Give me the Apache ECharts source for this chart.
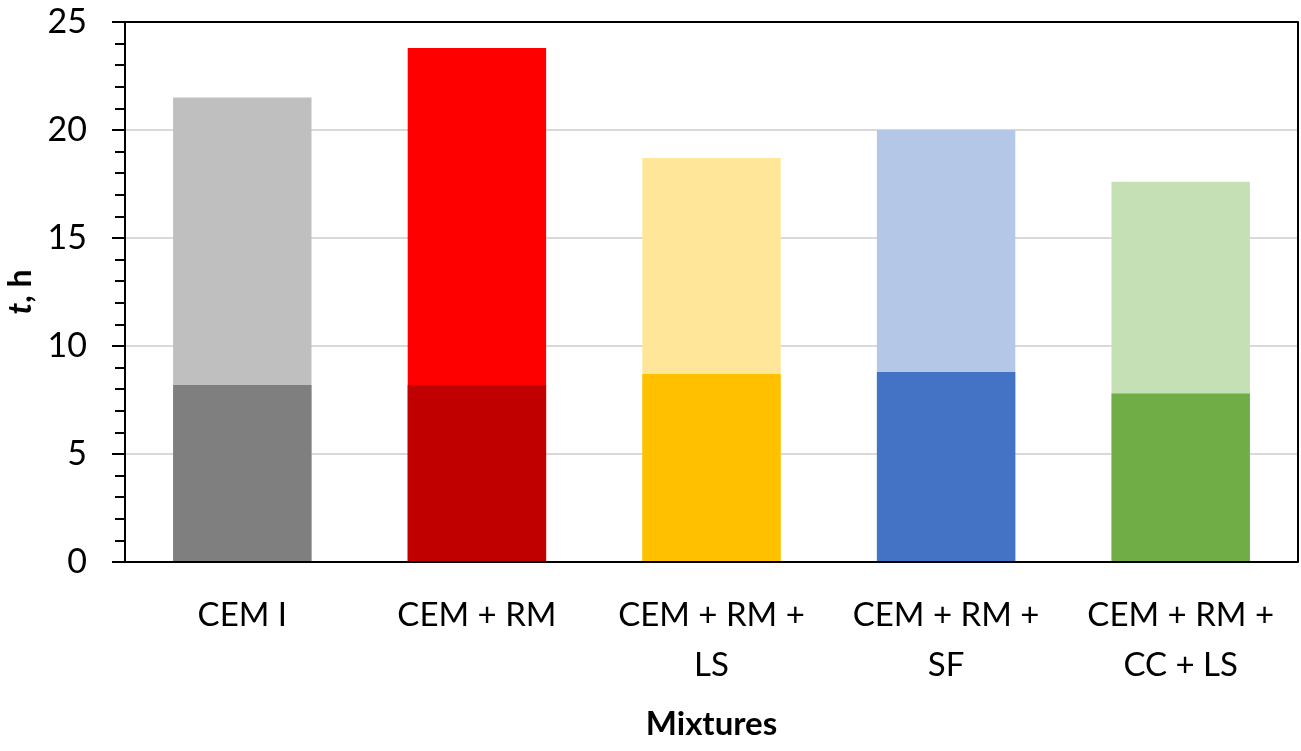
<!DOCTYPE html>
<html>
<head>
<meta charset="utf-8">
<script src="https://cdn.jsdelivr.net/npm/echarts@6/dist/echarts.min.js"></script>
<style>
  html, body { margin: 0; padding: 0; background: #fff; }
  #chart { width: 1301px; height: 751px; }
</style>
</head>
<body>
<div id="chart"></div>
<script>
// categories and values
const mixtures = ['CEM I', 'CEM + RM', 'CEM + RM +\nLS', 'CEM + RM +\nSF', 'CEM + RM +\nCC + LS'];
const totalTime = [21.5, 23.8, 18.7, 20.0, 17.6];
const firstTime = [8.2, 8.2, 8.7, 8.8, 7.8];
const yTicks = [0, 5, 10, 15, 20, 25];

// light (total) and dark (first part) colours per mixture
const lightColors = ['#BFBFBF', '#FF0000', '#FFE699', '#B4C7E7', '#C5E0B4'];
const darkColors = ['#7F7F7F', '#C00000', '#FFC000', '#4472C4', '#70AD47'];

const font = 'Lato, "Open Sans", sans-serif';

// grid lines are light grey, the one at the top is the black frame
const splitColors = yTicks.map((t, i) => i === yTicks.length - 1 ? '#000' : '#D9D9D9');
// vertical lines at category edges: only the last (right frame) is visible
const frameColors = mixtures.concat(['']).map((m, i) => i === mixtures.length ? '#000' : 'rgba(0,0,0,0)');

const chart = echarts.init(document.getElementById('chart'));

const option = {
    animation: false,
    grid: {
        left: 125,
        right: 3,
        top: 22,
        bottom: 189,
        outerBoundsMode: 'none'
    },
    xAxis: [
        {
            type: 'category',
            data: mixtures,
            name: 'Mixtures',
            nameLocation: 'middle',
            nameGap: 146,
            nameTextStyle: { fontFamily: font, fontSize: 33, fontWeight: 'bold', color: '#000' },
            axisLine: { lineStyle: { color: '#000', width: 2 } },
            axisTick: { show: false },
            axisLabel: {
                fontFamily: font,
                fontSize: 33,
                color: '#000',
                lineHeight: 50,
                margin: 28,
                interval: 0
            },
            z: 5
        },
        {
            // top frame line and right frame line only
            type: 'category',
            position: 'top',
            data: mixtures,
            axisLine: { lineStyle: { color: '#000', width: 2 } },
            axisTick: { show: false },
            axisLabel: { show: false },
            splitLine: { show: true, interval: 0, lineStyle: { color: frameColors, width: 2 } },
            z: 5
        }
    ],
    yAxis: [
        {
            type: 'value',
            min: yTicks[0],
            max: yTicks[yTicks.length - 1],
            interval: 5,
            name: '{i|t}{b|, h}',
            nameLocation: 'middle',
            nameGap: 88,
            nameRotate: 90,
            nameTextStyle: {
                rich: {
                    i: { fontFamily: font, fontSize: 32, fontWeight: 'bold', fontStyle: 'italic', color: '#000' },
                    b: { fontFamily: font, fontSize: 32, fontWeight: 'bold', color: '#000' }
                }
            },
            axisLine: { show: true, lineStyle: { color: '#000', width: 2 } },
            axisTick: { show: true, length: 13, lineStyle: { color: '#000', width: 2 } },
            minorTick: { show: true, splitNumber: 5, length: 10, lineStyle: { color: '#000', width: 2 } },
            axisLabel: { fontFamily: font, fontSize: 34, color: '#000', margin: 38 },
            splitLine: { lineStyle: { color: splitColors, width: 2 } },
            z: 1
        }
    ],
    series: [
        {
            name: 'total',
            type: 'bar',
            barWidth: '59%',
            barGap: '-100%',
            data: totalTime.map((v, i) => ({ value: v, itemStyle: { color: lightColors[i] } }))
        },
        {
            name: 'first',
            type: 'bar',
            barWidth: '59%',
            barGap: '-100%',
            data: firstTime.map((v, i) => ({ value: v, itemStyle: { color: darkColors[i] } }))
        }
    ]
};

chart.setOption(option);
</script>
</body>
</html>
